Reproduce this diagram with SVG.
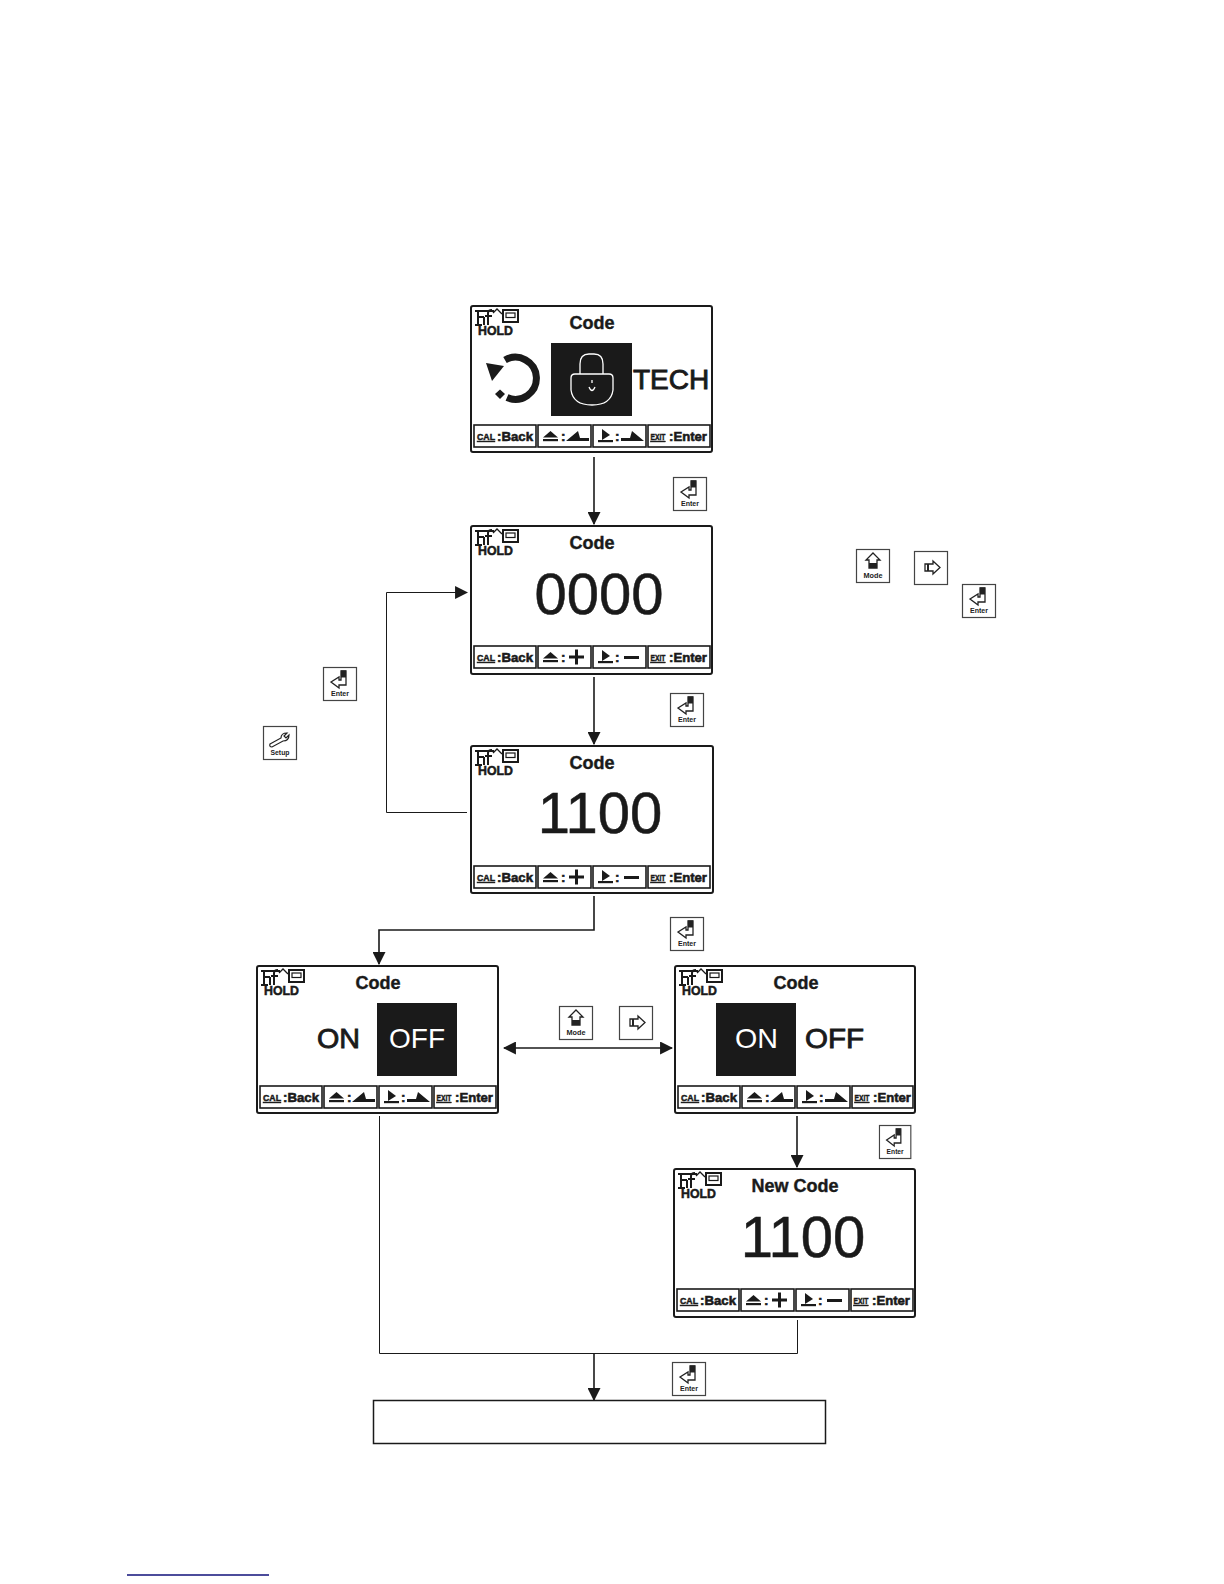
<svg xmlns="http://www.w3.org/2000/svg" width="1224" height="1584" viewBox="0 0 1224 1584">
<style>
text{font-family:"Liberation Sans",Arial,sans-serif;fill:#1a1a1a}
.frame{fill:#fff;stroke:#1a1a1a;stroke-width:2}
.sk{fill:#fff;stroke:#1a1a1a;stroke-width:1.6}
.title{font-size:18px;font-weight:bold;text-anchor:middle;stroke:#1a1a1a;stroke-width:.4}
.hold{font-size:12.5px;font-weight:bold;stroke:#1a1a1a;stroke-width:.5}
.lbl{font-size:13.5px;font-weight:bold;stroke:#1a1a1a;stroke-width:.6}
.cal{font-size:9.5px;font-weight:bold;text-decoration:underline;stroke:#1a1a1a;stroke-width:.5}
.num{font-size:58px;text-anchor:middle;stroke:#1a1a1a;stroke-width:.5}
.big{font-size:28px;stroke:#1a1a1a;stroke-width:.9}
.inv{font-size:28px;fill:#fff}
.keylbl{font-size:8px;font-weight:bold;text-anchor:middle;fill:#222}
.key{fill:#fff;stroke:#444;stroke-width:1.2}
.conn{fill:none;stroke:#1a1a1a;stroke-width:1.6}
.thin{fill:none;stroke:#1a1a1a;stroke-width:1}
.wl{fill:none;stroke:#fff;stroke-width:1.3}
</style>
<defs>
<marker id="ah" viewBox="0 0 12 12" refX="11" refY="6" markerWidth="13" markerHeight="13" markerUnits="userSpaceOnUse" orient="auto-start-reverse"><path d="M0 0L12 6L0 12Z" fill="#1a1a1a"/></marker>
<g id="status" fill="none" stroke="#1a1a1a"><path d="M1 3H20M4 3V17M1 17H8M4 9H10M10 9V17M14 17V5Q14 2 18 2M11 8H18" stroke-width="2"/><path d="M19 5L23 1L28 6" stroke-width="1.300"/><rect x="29" y="2" width="15" height="12" stroke-width="2"/><rect x="32" y="5" width="9" height="4.500" stroke-width="1.200"/></g>
<g id="eject" fill="#1a1a1a"><path d="M0 6.500L7.500 0L15 6.500Z"/><rect y="8" width="15" height="2.200"/></g>
<g id="play" fill="#1a1a1a"><path d="M4 0L12 6L4 11Z"/><rect y="11" width="15" height="2.200"/></g>
<path id="rampu" d="M0 10L12 0L14 7H23V10Z" fill="#1a1a1a"/>
<path id="rampd" d="M23 10L11 0L9 7H0V10Z" fill="#1a1a1a"/>
<path id="plus" d="M6 0H9V6H15V9H9V15H6V9H0V6H6Z" fill="#1a1a1a"/>
<rect id="minus" width="15" height="3" fill="#1a1a1a"/>
<g id="ekey"><rect class="key" x="0.500" y="0.500" width="33" height="33"/><path d="M18 4H23V18H16V21L8 15L16 10V13H18Z" fill="none" stroke="#222" stroke-width="1.300"/><rect x="18" y="3.500" width="5" height="7" fill="#222"/></g>
<g id="mkey"><rect class="key" x="0.500" y="0.500" width="33" height="33"/><path d="M17 4L24 11H21V19H13V11H10Z" fill="none" stroke="#222" stroke-width="1.300"/><rect x="13" y="14" width="8" height="5" fill="#222"/></g>
<g id="rkey"><rect class="key" x="0.500" y="0.500" width="33" height="33"/><path d="M11 13H19V10L26 16.500L19 23V20H11Z" fill="none" stroke="#222" stroke-width="1.300"/><path d="M14 13V20" stroke="#222" stroke-width="2"/></g>
<g id="skey"><rect class="key" x="0.500" y="0.500" width="33" height="33"/><path d="M7 18L18 12Q18 7 24 7L21 10L23 12L26 9Q26 15 20 15L9 21Q6 21 7 18Z" fill="none" stroke="#222" stroke-width="1.200"/></g>
</defs>

<g id="connectors">
<path class="conn" d="M594 457V524" marker-end="url(#ah)"/>
<path class="conn" d="M594 677V744" marker-end="url(#ah)"/>
<path class="thin" d="M467 812.500H386.500V592.500H467" marker-end="url(#ah)"/>
<path class="conn" d="M594 896V930H379V964" marker-end="url(#ah)"/>
<path class="conn" d="M504 1048H672" marker-start="url(#ah)" marker-end="url(#ah)"/>
<path class="conn" d="M797 1116V1167" marker-end="url(#ah)"/>
<path class="thin" d="M379.500 1116V1353.500H797.500V1320"/>
<path class="conn" d="M594 1353V1400" marker-end="url(#ah)"/>
</g>

<g id="screen-lock" transform="translate(471 306)">
<rect class="frame" width="241" height="146" rx="2"/>
<use href="#status" x="3" y="2"/><text class="hold" x="7" y="29" textLength="35" lengthAdjust="spacingAndGlyphs">HOLD</text>
<text class="title" x="121" y="23">Code</text>
<path d="M34 54A21 21 0 1 1 36 91.500" fill="none" stroke="#1a1a1a" stroke-width="7"/>
<path d="M15 57L33 60L21 75Z" fill="#1a1a1a"/><path d="M24 88L29 83.500L34 88L29 93Z" fill="#1a1a1a"/>
<rect x="80" y="37" width="81" height="73" fill="#1a1a1a"/>
<path class="wl" d="M109 68V58Q109 48 118 48H123Q132 48 132 58V68M104 68H138Q142 68 142 72V84Q140 99 121 99Q102 99 100 84V72Q100 68 104 68ZM121 74V77M118 81Q121 88 124 81"/>
<text x="162" y="83" font-size="28" stroke="#1a1a1a" stroke-width=".9">TECH</text>
<g>
<rect class="sk" x="3" y="119" width="62" height="22"/><text class="cal" x="6" y="134" textLength="18" lengthAdjust="spacingAndGlyphs">CAL</text><text class="lbl" x="26" y="135" textLength="36" lengthAdjust="spacingAndGlyphs">:Back</text>
<rect class="sk" x="67" y="119" width="53" height="22"/><use href="#eject" x="72" y="125"/><text class="lbl" x="90" y="135">:</text><use href="#rampu" x="95" y="125"/>
<rect class="sk" x="122" y="119" width="53" height="22"/><use href="#play" x="127" y="123"/><text class="lbl" x="144" y="135">:</text><use href="#rampd" x="150" y="125"/>
<rect class="sk" x="177" y="119" width="62" height="22"/><text class="cal" x="179.500" y="134" textLength="15" lengthAdjust="spacingAndGlyphs">EXIT</text><text class="lbl" x="198" y="135" textLength="38" lengthAdjust="spacingAndGlyphs">:Enter</text>
</g>
</g>

<g id="screen-0000" transform="translate(471 526)">
<rect class="frame" width="241" height="148" rx="2"/>
<use href="#status" x="3" y="2"/><text class="hold" x="7" y="29" textLength="35" lengthAdjust="spacingAndGlyphs">HOLD</text>
<text class="title" x="121" y="23">Code</text>
<text class="num" x="128" y="88">0000</text>
<g transform="translate(0 1)">
<rect class="sk" x="3" y="119" width="62" height="22"/><text class="cal" x="6" y="134" textLength="18" lengthAdjust="spacingAndGlyphs">CAL</text><text class="lbl" x="26" y="135" textLength="36" lengthAdjust="spacingAndGlyphs">:Back</text>
<rect class="sk" x="67" y="119" width="53" height="22"/><use href="#eject" x="72" y="125"/><text class="lbl" x="90" y="135">:</text><use href="#plus" x="98" y="122.500"/>
<rect class="sk" x="122" y="119" width="53" height="22"/><use href="#play" x="127" y="123"/><text class="lbl" x="144" y="135">:</text><use href="#minus" x="153" y="129"/>
<rect class="sk" x="177" y="119" width="62" height="22"/><text class="cal" x="179.500" y="134" textLength="15" lengthAdjust="spacingAndGlyphs">EXIT</text><text class="lbl" x="198" y="135" textLength="38" lengthAdjust="spacingAndGlyphs">:Enter</text>
</g>
</g>

<g id="screen-1100" transform="translate(471 746)">
<rect class="frame" width="242" height="147" rx="2"/>
<use href="#status" x="3" y="2"/><text class="hold" x="7" y="29" textLength="35" lengthAdjust="spacingAndGlyphs">HOLD</text>
<text class="title" x="121" y="23">Code</text>
<text class="num" x="129" y="87">1100</text>
<g transform="translate(0 1)">
<rect class="sk" x="3" y="119" width="62" height="22"/><text class="cal" x="6" y="134" textLength="18" lengthAdjust="spacingAndGlyphs">CAL</text><text class="lbl" x="26" y="135" textLength="36" lengthAdjust="spacingAndGlyphs">:Back</text>
<rect class="sk" x="67" y="119" width="53" height="22"/><use href="#eject" x="72" y="125"/><text class="lbl" x="90" y="135">:</text><use href="#plus" x="98" y="122.500"/>
<rect class="sk" x="122" y="119" width="53" height="22"/><use href="#play" x="127" y="123"/><text class="lbl" x="144" y="135">:</text><use href="#minus" x="153" y="129"/>
<rect class="sk" x="177" y="119" width="62" height="22"/><text class="cal" x="179.500" y="134" textLength="15" lengthAdjust="spacingAndGlyphs">EXIT</text><text class="lbl" x="198" y="135" textLength="38" lengthAdjust="spacingAndGlyphs">:Enter</text>
</g>
</g>

<g id="screen-off" transform="translate(257 966)">
<rect class="frame" width="241" height="147" rx="2"/>
<use href="#status" x="3" y="2"/><text class="hold" x="7" y="29" textLength="35" lengthAdjust="spacingAndGlyphs">HOLD</text>
<text class="title" x="121" y="23">Code</text>
<rect x="120" y="37" width="80" height="73" fill="#1a1a1a"/>
<text class="big" x="60" y="82" textLength="43" lengthAdjust="spacingAndGlyphs">ON</text>
<text class="inv" x="132" y="82">OFF</text>
<g transform="translate(0 1)">
<rect class="sk" x="3" y="119" width="62" height="22"/><text class="cal" x="6" y="134" textLength="18" lengthAdjust="spacingAndGlyphs">CAL</text><text class="lbl" x="26" y="135" textLength="36" lengthAdjust="spacingAndGlyphs">:Back</text>
<rect class="sk" x="67" y="119" width="53" height="22"/><use href="#eject" x="72" y="125"/><text class="lbl" x="90" y="135">:</text><use href="#rampu" x="95" y="125"/>
<rect class="sk" x="122" y="119" width="53" height="22"/><use href="#play" x="127" y="123"/><text class="lbl" x="144" y="135">:</text><use href="#rampd" x="150" y="125"/>
<rect class="sk" x="177" y="119" width="62" height="22"/><text class="cal" x="179.500" y="134" textLength="15" lengthAdjust="spacingAndGlyphs">EXIT</text><text class="lbl" x="198" y="135" textLength="38" lengthAdjust="spacingAndGlyphs">:Enter</text>
</g>
</g>

<g id="screen-on" transform="translate(675 966)">
<rect class="frame" width="240" height="147" rx="2"/>
<use href="#status" x="3" y="2"/><text class="hold" x="7" y="29" textLength="35" lengthAdjust="spacingAndGlyphs">HOLD</text>
<text class="title" x="121" y="23">Code</text>
<rect x="41" y="37" width="80" height="73" fill="#1a1a1a"/>
<text class="inv" x="60" y="82" textLength="43" lengthAdjust="spacingAndGlyphs">ON</text>
<text class="big" x="130" y="82" textLength="59" lengthAdjust="spacingAndGlyphs">OFF</text>
<g transform="translate(0 1)">
<rect class="sk" x="3" y="119" width="62" height="22"/><text class="cal" x="6" y="134" textLength="18" lengthAdjust="spacingAndGlyphs">CAL</text><text class="lbl" x="26" y="135" textLength="36" lengthAdjust="spacingAndGlyphs">:Back</text>
<rect class="sk" x="67" y="119" width="53" height="22"/><use href="#eject" x="72" y="125"/><text class="lbl" x="90" y="135">:</text><use href="#rampu" x="95" y="125"/>
<rect class="sk" x="122" y="119" width="53" height="22"/><use href="#play" x="127" y="123"/><text class="lbl" x="144" y="135">:</text><use href="#rampd" x="150" y="125"/>
<rect class="sk" x="177" y="119" width="61" height="22"/><text class="cal" x="179.500" y="134" textLength="15" lengthAdjust="spacingAndGlyphs">EXIT</text><text class="lbl" x="198" y="135" textLength="38" lengthAdjust="spacingAndGlyphs">:Enter</text>
</g>
</g>

<g id="screen-newcode" transform="translate(674 1169)">
<rect class="frame" width="241" height="148" rx="2"/>
<use href="#status" x="3" y="2"/><text class="hold" x="7" y="29" textLength="35" lengthAdjust="spacingAndGlyphs">HOLD</text>
<text class="title" x="121" y="23">New Code</text>
<text class="num" x="129" y="88">1100</text>
<g transform="translate(0 1)">
<rect class="sk" x="3" y="119" width="62" height="22"/><text class="cal" x="6" y="134" textLength="18" lengthAdjust="spacingAndGlyphs">CAL</text><text class="lbl" x="26" y="135" textLength="36" lengthAdjust="spacingAndGlyphs">:Back</text>
<rect class="sk" x="67" y="119" width="53" height="22"/><use href="#eject" x="72" y="125"/><text class="lbl" x="90" y="135">:</text><use href="#plus" x="98" y="122.500"/>
<rect class="sk" x="122" y="119" width="53" height="22"/><use href="#play" x="127" y="123"/><text class="lbl" x="144" y="135">:</text><use href="#minus" x="153" y="129"/>
<rect class="sk" x="177" y="119" width="62" height="22"/><text class="cal" x="179.500" y="134" textLength="15" lengthAdjust="spacingAndGlyphs">EXIT</text><text class="lbl" x="198" y="135" textLength="38" lengthAdjust="spacingAndGlyphs">:Enter</text>
</g>
</g>

<g id="box-final"><rect x="373.500" y="1400.500" width="452" height="43" fill="#fff" stroke="#1a1a1a" stroke-width="1.500"/></g>

<g id="key-enter-1" transform="translate(673 477)"><use href="#ekey"/><text class="keylbl" x="17" y="29" textLength="18" lengthAdjust="spacingAndGlyphs">Enter</text></g>
<g id="key-enter-2" transform="translate(670 693)"><use href="#ekey"/><text class="keylbl" x="17" y="29" textLength="18" lengthAdjust="spacingAndGlyphs">Enter</text></g>
<g id="key-enter-3" transform="translate(323 667)"><use href="#ekey"/><text class="keylbl" x="17" y="29" textLength="18" lengthAdjust="spacingAndGlyphs">Enter</text></g>
<g id="key-enter-4" transform="translate(962 584)"><use href="#ekey"/><text class="keylbl" x="17" y="29" textLength="18" lengthAdjust="spacingAndGlyphs">Enter</text></g>
<g id="key-enter-5" transform="translate(670 917)"><use href="#ekey"/><text class="keylbl" x="17" y="29" textLength="18" lengthAdjust="spacingAndGlyphs">Enter</text></g>
<g id="key-enter-6" transform="translate(879 1125) scale(.95 1)"><use href="#ekey"/><text class="keylbl" x="17" y="29" textLength="18" lengthAdjust="spacingAndGlyphs">Enter</text></g>
<g id="key-enter-7" transform="translate(672 1362)"><use href="#ekey"/><text class="keylbl" x="17" y="29" textLength="18" lengthAdjust="spacingAndGlyphs">Enter</text></g>
<g id="key-mode-1" transform="translate(856 549)"><use href="#mkey"/><text class="keylbl" x="17" y="29" textLength="19" lengthAdjust="spacingAndGlyphs">Mode</text></g>
<g id="key-mode-2" transform="translate(559 1006)"><use href="#mkey"/><text class="keylbl" x="17" y="29" textLength="19" lengthAdjust="spacingAndGlyphs">Mode</text></g>
<g id="key-right-1" transform="translate(914 551)"><use href="#rkey"/></g>
<g id="key-right-2" transform="translate(619 1006)"><use href="#rkey"/></g>
<g id="key-setup" transform="translate(263 726)"><use href="#skey"/><text class="keylbl" x="17" y="29" textLength="19" lengthAdjust="spacingAndGlyphs">Setup</text></g>

<path id="footer-rule" d="M127 1575H269" stroke="#10107a" stroke-width="1.300" fill="none"/>
</svg>
